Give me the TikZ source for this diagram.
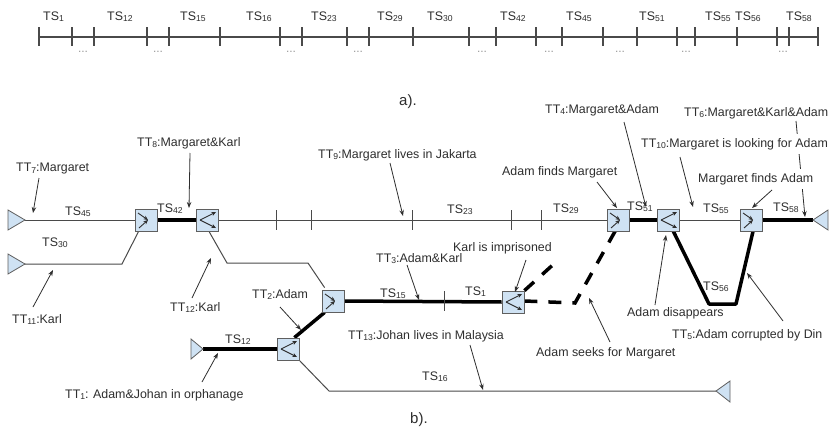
\documentclass[tikz,border=0pt]{standalone}
\usepackage{fontspec}
\setmainfont{Liberation Sans}
\usetikzlibrary{arrows.meta}
\pgfdeclarelayer{paper}
\pgfdeclarelayer{wires}
\pgfsetlayers{paper,wires,main}
\definecolor{boxblue}{HTML}{CFE2F3}
\definecolor{edgegray}{HTML}{5F5F5F}
\definecolor{wiregray}{HTML}{4A4A4A}
\definecolor{ink}{HTML}{2E2E2E}
\definecolor{dotgray}{HTML}{9A9A9A}
\newcommand\tsub[1]{\raisebox{-1.5pt}{\fontsize{8.6}{9}\selectfont #1}}
% arrows converging inside a merge box
\newcommand\mergemark[1]{%
  \draw[inarr] ([shift={(-8,-7)}]#1.center) -- ([shift={(2,0)}]#1.center);
  \draw[inarr] ([shift={(-7,8)}]#1.center) -- ([shift={(2,0)}]#1.center);}
% arrows diverging inside a split box
\newcommand\splitmark[1]{%
  \draw[inarr] ([shift={(-7,0)}]#1.center) -- ([shift={(9,-8)}]#1.center);
  \draw[inarr] ([shift={(-7,0)}]#1.center) -- ([shift={(9,8)}]#1.center);}

\begin{document}
\begin{tikzpicture}[x=1pt,y=-1pt,
  lbl/.style={font=\fontsize{12.4}{14}\selectfont, text=ink, inner sep=0pt, anchor=base west},
  cover/.style={lbl, fill=white, inner sep=4pt},
  partlbl/.style={font=\fontsize{15}{17}\selectfont, text=ink, inner sep=0pt, anchor=base west},
  dots/.style={font=\fontsize{12}{14}\selectfont, text=dotgray, inner sep=0pt},
  tline/.style={draw=wiregray, line width=1.1pt},
  wire/.style={draw=wiregray, line width=1pt},
  bold/.style={draw=black, line width=3.5pt},
  dashbold/.style={bold, dash pattern=on 13pt off 11pt},
  pbox/.style={draw=edgegray, fill=boxblue, line width=0.8pt, minimum size=22pt, inner sep=0pt},
  tri/.style={draw=edgegray, fill=boxblue, line width=0.8pt},
  ann/.style={draw=ink, line width=0.8pt, -{Stealth[length=6pt,width=4.5pt]}},
  inarr/.style={draw=ink, line width=0.9pt, -{Stealth[length=4.5pt,width=4pt]}},
]
\begin{pgfonlayer}{paper}
  \fill[white] (0,0) rectangle (830,439);
\end{pgfonlayer}
\useasboundingbox (0,0) rectangle (830,439);

% ---------------- a) the time line ----------------
\coordinate (tlA) at (39,37);
\coordinate (tlB) at (818,37);
\draw[tline] (tlA) -- (tlB);
\foreach \x in {39,72,94,147,169,220,280,302,347,369,413,469,496,536,562,603,637,677,695,737,777,789,818}
  \draw[tline] (\x,27) -- (\x,46);
\foreach \x in {83,158,291,358,482,549,620,686,783}
  \node[dots] (dot\x) at (\x,52) {...};
\foreach \x/\n in {43/1,107/12,180/15,246/16,311/23,377/29,427/30,500/42,566/45,639/51,705/55,735/56,786/58}
  \node[lbl] (top\n) at (\x,20) {TS\tsub{\n}};
\node[partlbl] (capa) at (399,105) {a).};

% ---------------- b) the story lines ----------------
% merge and split boxes
\node[pbox] (m1) at (146,220) {};
\node[pbox] (s1) at (207,220) {};
\node[pbox] (m2) at (333,301) {};
\node[pbox] (s2) at (288,349) {};
\node[pbox] (s3) at (513,302) {};
\node[pbox] (m3) at (618,220) {};
\node[pbox] (s4) at (668,220) {};
\node[pbox] (m4) at (751,220) {};
\mergemark{m1}\mergemark{m2}\mergemark{m3}\mergemark{m4}
\splitmark{s1}\splitmark{s2}\splitmark{s3}\splitmark{s4}

% start and end triangles
\coordinate (in1) at (25,220);
\coordinate (in2) at (25,264);
\coordinate (in3) at (203,349);
\coordinate (out1) at (813,220);
\coordinate (out2) at (716,391);
\draw[tri] (in1) -- ++(-17,-10) -- ++(0,20) -- cycle;
\draw[tri] (in2) -- ++(-17,-10) -- ++(0,20) -- cycle;
\draw[tri] (in3) -- ++(-12,-10) -- ++(0,20) -- cycle;
\draw[tri] (out1) -- ++(15,-10) -- ++(0,20) -- cycle;
\draw[tri] (out2) -- ++(14,-10) -- ++(0,21) -- cycle;

% bends and loose ends of the lines
\coordinate (k30) at (122,264);
\coordinate (ka) at (227,263);
\coordinate (kb) at (308,263);
\coordinate (j16) at (329,391);
\coordinate (lost) at (556,262);
\coordinate (sk) at (575,303);
\coordinate (va) at (709,304);
\coordinate (vb) at (736,304);

\begin{pgfonlayer}{wires}
  \draw[wire] (in1) -- (m1.west);
  \draw[bold] (m1.east) -- (s1.west);
  \draw[wire] (s1.east) -- (m3.west);
  \foreach \x in {276,311,412,511,541} \draw[wire] (\x,210) -- (\x,230);
  \draw[bold] (m3.east) -- (s4.west);
  \draw[wire] (s4.east) -- (m4.west);
  \draw[bold] (m4.east) -- (out1);
  \draw[wire] (in2) -- (k30) -- ([xshift=4]m1.south west);
  \draw[wire] ([xshift=2]s1.south) -- (ka) -- (kb) -- ([xshift=3,yshift=2]m2.north west);
  \draw[bold] (in3) -- (s2.west);
  \draw[bold] ([xshift=-5]s2.north east) -- ([xshift=3]m2.south west);
  \draw[wire] (s2.south east) -- (j16) -- (out2);
  \draw[bold] (m2.east) -- (s3.west);
  \draw[wire] (444,291) -- (444,311);
  \draw[dashbold] (s3.north east) -- (lost);
  \draw[dashbold] ([yshift=1]s3.east) -- (sk) -- ([xshift=-3]m3.south);
  \draw[bold, line join=round] ([xshift=-6]s4.south east) -- (va) -- (vb) -- ([xshift=2]m4.south);
\end{pgfonlayer}

% segment labels
\node[lbl] (ts45) at (65,215) {TS\tsub{45}};
\node[lbl] (ts30) at (42,246) {TS\tsub{30}};
\node[lbl] (ts42) at (157,212) {TS\tsub{42}};
\node[lbl] (ts23) at (447,213) {TS\tsub{23}};
\node[lbl] (ts15) at (380,297) {TS\tsub{15}};
\node[lbl] (ts1) at (465,295) {TS\tsub{1}};
\node[lbl] (ts29) at (553,212) {TS\tsub{29}};
\node[lbl] (ts51) at (627,210) {TS\tsub{51}};
\node[lbl] (ts55) at (703,212) {TS\tsub{55}};
\node[lbl] (ts58) at (773,211) {TS\tsub{58}};
\node[lbl] (ts56) at (703,290) {TS\tsub{56}};
\node[lbl] (ts16) at (422,380) {TS\tsub{16}};
\node[lbl] (ts12) at (225,343) {TS\tsub{12}};

% a long pointer that runs behind two labels
\coordinate (p6a) at (796,121);
\coordinate (p6b) at (805,217);
\draw[ann] (p6a) -- (p6b);

% event labels
\node[lbl] (tt7) at (16,171.5) {TT\tsub{7}:Margaret};
\node[lbl] (tt11) at (12,323) {TT\tsub{11}:Karl};
\node[lbl] (tt8) at (137,146) {TT\tsub{8}:Margaret\&Karl};
\node[lbl] (tt12) at (170,311) {TT\tsub{12}:Karl};
\node[lbl] (tt9) at (318,158) {TT\tsub{9}:Margaret lives in Jakarta};
\node[lbl] (tt3) at (376,262) {TT\tsub{3}:Adam\&Karl};
\node[lbl] (kip) at (453,251) {Karl is imprisoned};
\node[lbl] (afm) at (502,175) {Adam finds Margaret};
\node[lbl] (tt4) at (545,113) {TT\tsub{4}:Margaret\&Adam};
\node[lbl] (tt6) at (684,116) {TT\tsub{6}:Margaret\&Karl\&Adam};
\node[cover] (tt10) at (637,147) {TT\tsub{10}:Margaret is looking for Adam};
\node[cover] (mfa) at (694,182) {Margaret finds Adam};
\node[lbl] (adis) at (627,316) {Adam disappears};
\node[lbl] (tt5) at (672,338) {TT\tsub{5}:Adam corrupted by Din};
\node[lbl] (asm) at (536,356) {Adam seeks for Margaret};
\node[lbl] (tt13) at (348,339) {TT\tsub{13}:Johan lives in Malaysia};
\node[lbl] (tt2) at (252,298) {TT\tsub{2}:Adam};
\node[lbl] (tt1) at (65,398) {TT\tsub{1}: Adam\&Johan in orphanage};
\node[partlbl] (capb) at (410,423) {b).};

% pointers from the labels to the lines
\foreach \n/\ax/\ay/\bx/\by in {
    p7/39/178/33/213, p11/33/307/53/270, p8/190/153/189/208, p12/192/298/211/258,
    p9/390/163/403/216, p3/407/265/419/300, pk/526/260/515/292, pa/597/182/617/208,
    p4/624/122/646/207, p10/680/157/693/207, pm/772/190/752/208, pd/655/305/666/235,
    p5/783/321/747/273, ps/610/342/589/298, p13/470/345/483/390, p2/280/307/301/330,
    p1/202/382/218/353} {
  \coordinate (\n a) at (\ax,\ay);
  \coordinate (\n b) at (\bx,\by);
  \draw[ann] (\n a) -- (\n b);
}
\end{tikzpicture}
\end{document}
